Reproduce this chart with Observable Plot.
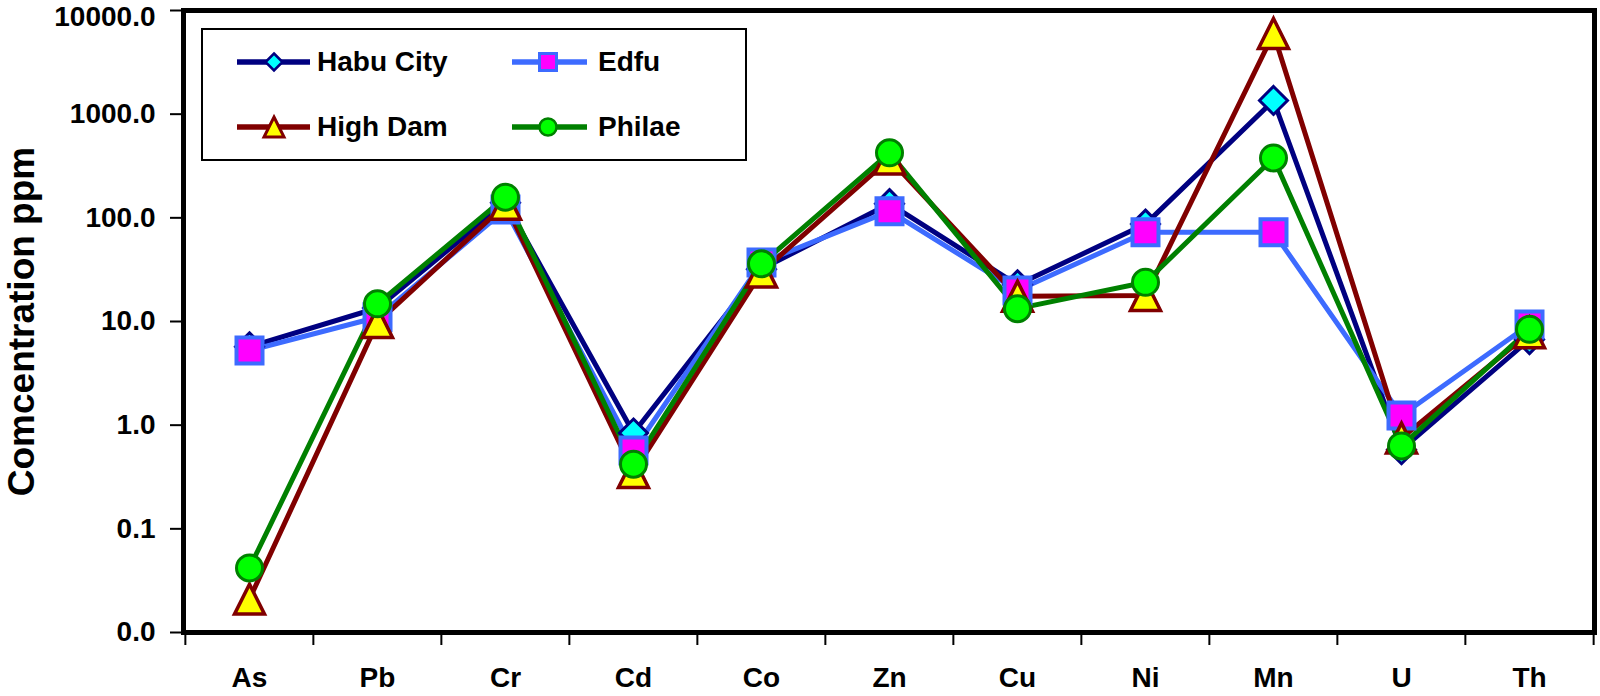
<!DOCTYPE html>
<html><head><meta charset="utf-8">
<script src="https://cdn.jsdelivr.net/npm/d3@7"></script>
<script src="https://cdn.jsdelivr.net/npm/@observablehq/plot@0.6"></script>
<style>
html,body{margin:0;padding:0;background:#fff;}
#wrap{position:relative;width:1600px;height:696px;overflow:hidden;}
#legend{position:absolute;left:201px;top:28px;}
g[aria-label="y-axis label"] text{font-size:37px;}
</style></head><body><div id="wrap"></div>
<script>
// ---- data ----
const categories = ["As","Pb","Cr","Cd","Co","Zn","Cu","Ni","Mn","U","Th"];
const habuCity = [5.7, 13.5, 140, 0.84, 32, 137, 22.6, 87, 1355, 0.58, 6.7];
const edfu     = [5.25, 11, 120, 0.57, 37, 116, 19.9, 72.6, 72.6, 1.24, 9.35];
const highDam  = [0.021, 9.8, 135, 0.35, 30, 370, 17.5, 17.8, 6000, 0.75, 7.8];
const philae   = [0.042, 14.8, 158, 0.42, 36, 424, 13.3, 23.9, 378, 0.63, 8.4];
const seriesNames = ["Habu City","Edfu","High Dam","Philae"];
const yTicks = [0.01, 0.1, 1, 10, 100, 1000, 10000];
const yTitle = "Comcentration ppm";

// ---- symbols (bbox-centred, like the original markers) ----
const rOf = size => Math.sqrt(size / Math.PI);
const symDiamond = {draw(c, s){const r=rOf(s); c.moveTo(0,-r); c.lineTo(r,0); c.lineTo(0,r); c.lineTo(-r,0); c.closePath();}};
const symSquare = {draw(c, s){const r=rOf(s); c.moveTo(-r,-r); c.lineTo(r,-r); c.lineTo(r,r); c.lineTo(-r,r); c.closePath();}};
const symTriangle = {draw(c, s){const r=rOf(s); c.moveTo(0,-r); c.lineTo(r,r); c.lineTo(-r,r); c.closePath();}};
const symCircle = {draw(c, s){const r=rOf(s); c.moveTo(r,0); c.arc(0,0,r,0,2*Math.PI); c.closePath();}};

const series = [
  {name: seriesNames[0], values: habuCity, line: "#000080", fill: "#00ffff", symbol: symDiamond, r: 14, sw: 3, lr: 8.5, lsw: 2.5, shape: "diamond"},
  {name: seriesNames[1], values: edfu,     line: "#3d6bff", fill: "#ff00ff", symbol: symSquare,  r: 13, sw: 4, lr: 8.5, lsw: 3, shape: "square"},
  {name: seriesNames[2], values: highDam,  line: "#800000", fill: "#ffff00", symbol: symTriangle,r: 15, sw: 3.5, lr: 10, lsw: 3, shape: "triangle"},
  {name: seriesNames[3], values: philae,   line: "#008000", fill: "#00ff00", symbol: symCircle,  r: 13, sw: 3, lr: 8.5, lsw: 2.5, shape: "circle"}
];

const rows = series.flatMap(s => categories.map((c, i) => ({series: s.name, element: c, value: s.values[i]})));

// ---- layout ----
const W = 1600, H = 696;
const mL = 183, mR = 6, mT = 10, mB = 64;
const bw = (W - mL - mR) / categories.length;
const plotH = H - mT - mB;
const plotW = W - mL - mR;
const fmt = d => d.toFixed(1);

const marks = [
  Plot.axisX({tickSize: 0, tickPadding: 35, label: null}),
  // x tick marks at the category boundaries
  Plot.ruleX(categories, {x: d => d, dx: -bw/2, insetTop: plotH, insetBottom: -13, stroke: "black", strokeWidth: 2}),
  Plot.ruleX(categories.slice(-1), {x: d => d, dx: bw/2, insetTop: plotH, insetBottom: -13, stroke: "black", strokeWidth: 2}),
  // y tick marks (outside the frame)
  Plot.ruleY(yTicks, {y: d => d, insetLeft: -13, insetRight: plotW, stroke: "black", strokeWidth: 2}),
  // y tick labels (all but the top one) + axis title
  Plot.axisY({ticks: yTicks.slice(0, -1), tickSize: 0, tickPadding: 28, tickFormat: fmt,
              label: yTitle, labelAnchor: "center", labelArrow: "none", labelOffset: 176}),
  // top label, kept inside the picture as in the original
  Plot.axisY({ticks: yTicks.slice(-1), tickSize: 0, tickPadding: 28, tickFormat: fmt, dy: 7, label: null})
];
for (const s of series) {
  marks.push(Plot.line(rows.filter(d => d.series === s.name), {x: "element", y: "value", stroke: s.line, strokeWidth: 5, strokeLinejoin: "round"}));
}
for (const s of series) {
  marks.push(Plot.dot(rows.filter(d => d.series === s.name), {x: "element", y: "value", symbol: s.symbol, r: s.r, fill: s.fill, stroke: s.line, strokeWidth: s.sw, strokeLinejoin: "miter"}));
}
marks.push(Plot.frame({stroke: "black", strokeWidth: 5}));

const chart = Plot.plot({
  width: W, height: H,
  marginLeft: mL, marginRight: mR, marginTop: mT, marginBottom: mB,
  x: {type: "band", domain: categories, padding: 0},
  y: {type: "log", domain: [0.01, 10000]},
  style: {fontFamily: "'Liberation Sans', Arial, sans-serif", fontSize: "28px", fontWeight: "bold", color: "black", background: "white"},
  marks
});
document.getElementById("wrap").appendChild(chart);

// ---- legend (inside plot area, like the original) ----
const LW = 546, LH = 133;
const cols = [{x1: 36, x2: 109, cx: 73, tx: 116}, {x1: 311, x2: 386, cx: 347, tx: 397}];
const rowsY = [{cy: 34, by: 43}, {cy: 99, by: 108}];
function shapePath(shape, r) {
  if (shape === "diamond") return `M0,${-r}L${r},0L0,${r}L${-r},0Z`;
  if (shape === "square") return `M${-r},${-r}H${r}V${r}H${-r}Z`;
  if (shape === "triangle") return `M0,${-r}L${r},${r}L${-r},${r}Z`;
  return `M${r},0A${r},${r} 0 1 1 ${-r},0A${r},${r} 0 1 1 ${r},0Z`;
}
let svg = `<svg id="legend" width="${LW}" height="${LH}" xmlns="http://www.w3.org/2000/svg" style="font-family:'Liberation Sans', Arial, sans-serif;font-weight:bold;font-size:28px">`;
svg += `<rect x="1" y="1" width="${LW-2}" height="${LH-2}" fill="white" stroke="black" stroke-width="2"/>`;
series.forEach((s, i) => {
  const c = cols[i % 2], r = rowsY[Math.floor(i / 2)];
  svg += `<line x1="${c.x1}" x2="${c.x2}" y1="${r.cy}" y2="${r.cy}" stroke="${s.line}" stroke-width="5.5"/>`;
  svg += `<path transform="translate(${c.cx},${r.cy})" d="${shapePath(s.shape, s.lr)}" fill="${s.fill}" stroke="${s.line}" stroke-width="${s.lsw}"/>`;
  svg += `<text x="${c.tx}" y="${r.by}" fill="black">${s.name}</text>`;
});
svg += `</svg>`;
document.getElementById("wrap").insertAdjacentHTML("beforeend", svg);
</script></body></html>
